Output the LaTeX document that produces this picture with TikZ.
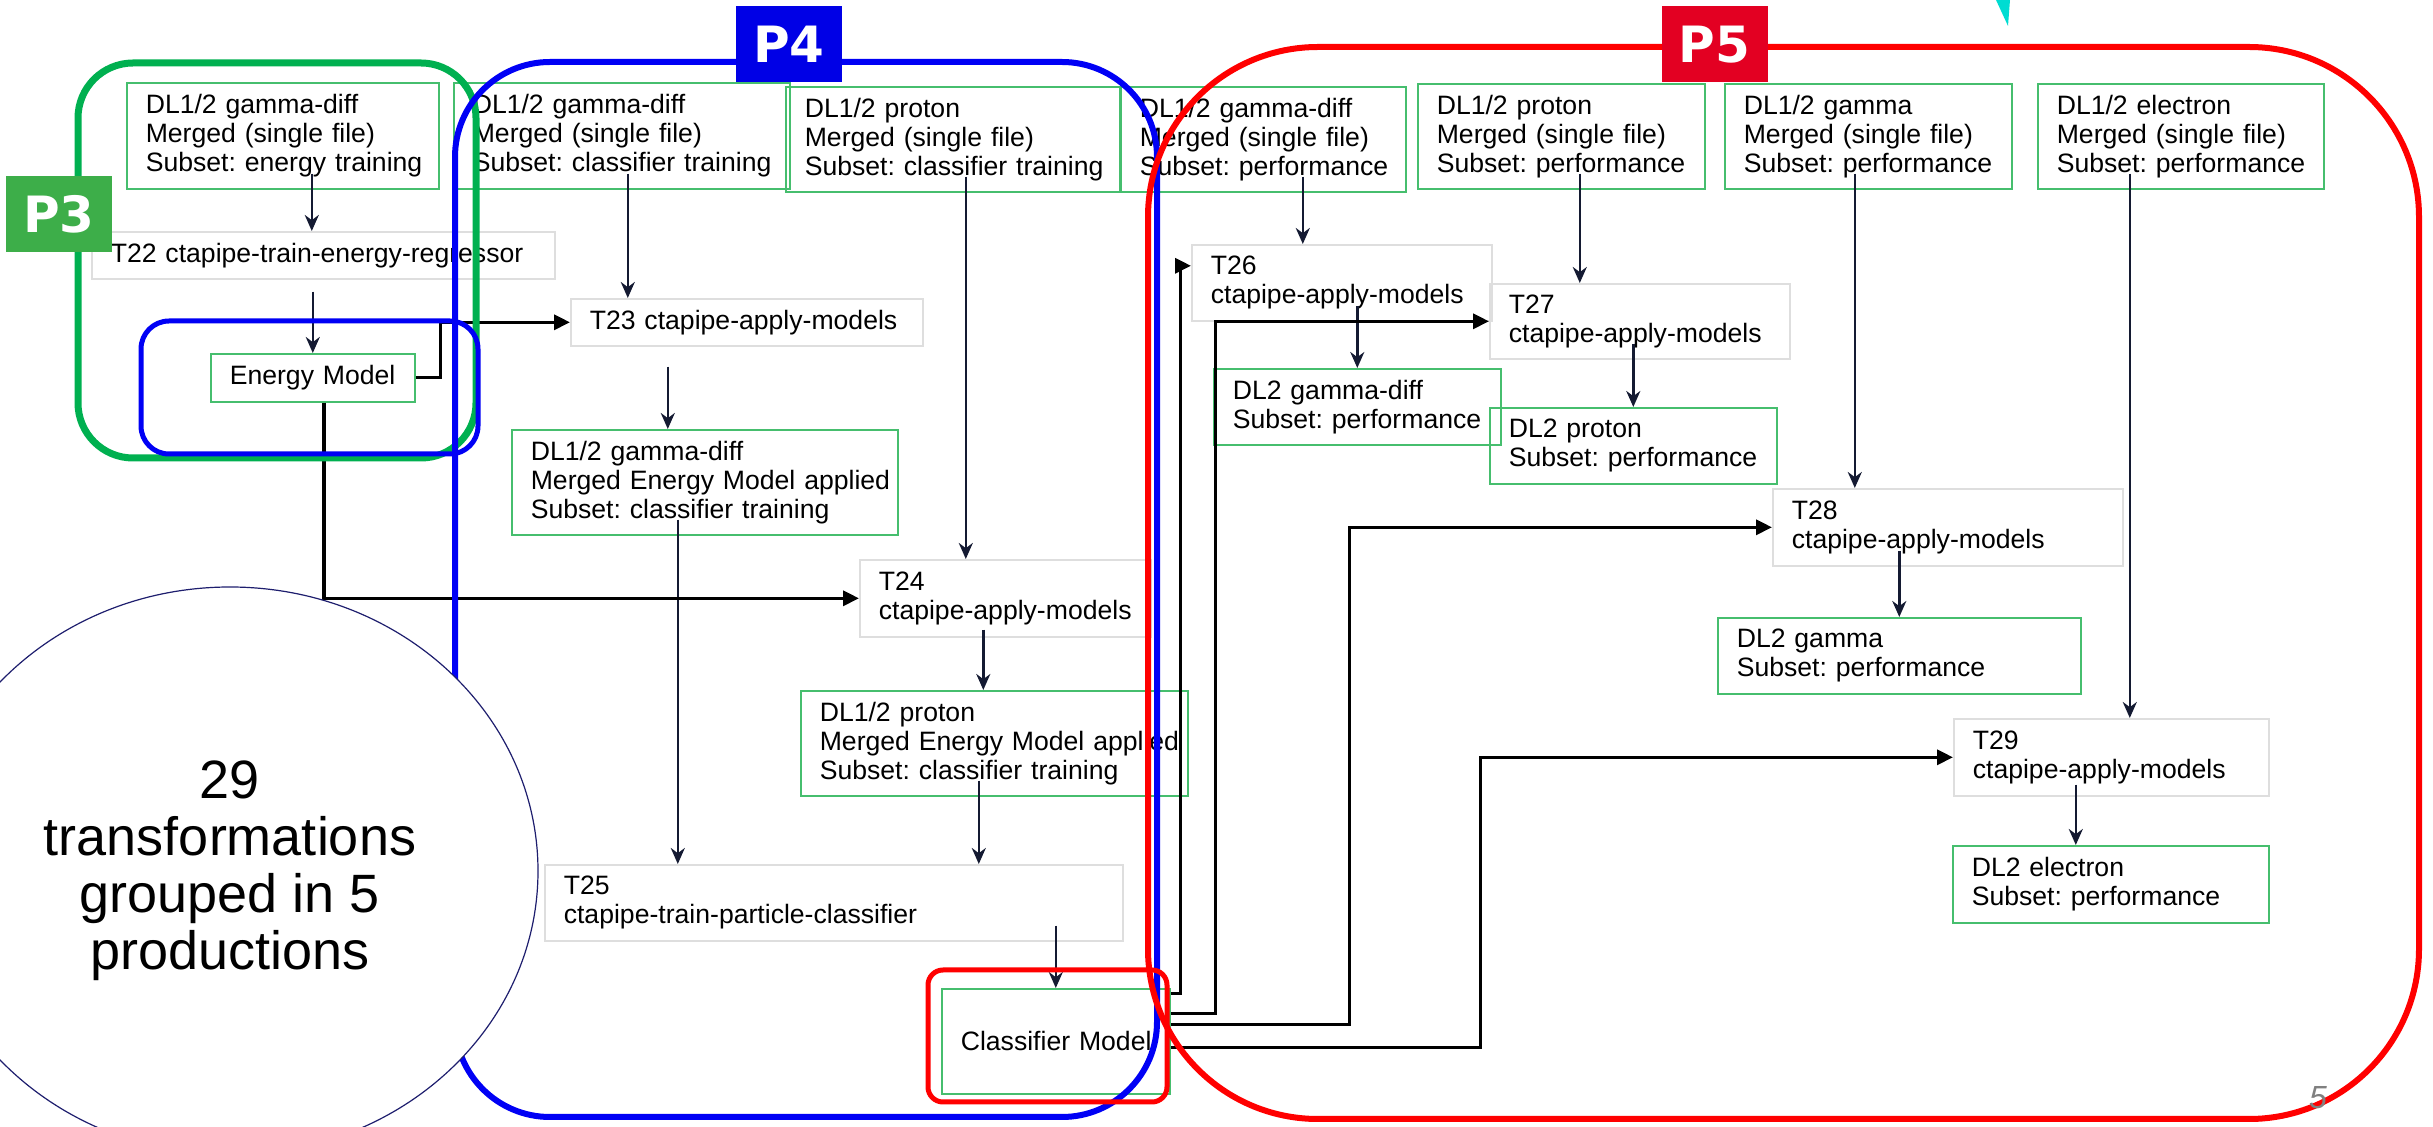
\documentclass[tikz,border=0pt]{standalone}
\usepackage{fontspec}
\setmainfont{Liberation Sans}
\newfontfamily\tagfont{DejaVu Sans}
\usepackage{tikz}
\usetikzlibrary{shapes.geometric, arrows.meta}
\frenchspacing
\definecolor{dsgreen}{RGB}{70,190,110}
\definecolor{taskgray}{RGB}{222,222,222}
\definecolor{arrownavy}{RGB}{20,26,50}
\definecolor{p3green}{RGB}{0,176,80}
\definecolor{p4blue}{RGB}{0,0,245}
\definecolor{p5red}{RGB}{255,0,0}
\definecolor{p3tag}{RGB}{61,174,73}
\definecolor{p4tag}{RGB}{0,0,230}
\definecolor{p5tag}{RGB}{227,0,34}
\definecolor{ringnavy}{RGB}{30,30,110}
\definecolor{tealmark}{RGB}{0,220,210}
\newcommand{\boxfont}{\fontsize{13.3}{14.5}\selectfont}
\tikzset{
    dataset/.style={rectangle, draw=dsgreen, line width=0.8pt, anchor=north west, align=left, inner xsep=9.5pt, inner ysep=1pt, font=\boxfont,
        execute at begin node={\rightskip=-30pt plus 1fil\hyphenpenalty=10000\exhyphenpenalty=10000}},
    task/.style={dataset, draw=taskgray},
    flow/.style={-{Stealth[length=8pt, width=7pt]}, draw=arrownavy, line width=1.3pt, shorten <=-8pt},
    modellink/.style={-{Triangle[length=8pt, width=7.5pt]}, line width=1.7pt},
    prodframe/.style={line width=3pt, rounded corners=#1},
    prodtag/.style={rectangle, fill=#1, text=white, minimum width=53pt, minimum height=38pt, inner sep=0pt, font=\tagfont\bfseries\fontsize{25}{25}\selectfont},
    summary/.style={ellipse, draw=ringnavy, line width=0.6pt, fill=white, minimum width=308pt, minimum height=284pt, inner sep=0pt, align=center, font=\fontsize{27}{28.5}\selectfont}
}

\begin{document}
\begin{tikzpicture}[x=0.5pt, y=-0.5pt]
    \useasboundingbox (0,0) rectangle (2433,1127);
    \clip (0,0) rectangle (2433,1127);

    % P3
    \node[dataset, text width=137pt, minimum height=53pt] (dlEnergy) at (126,82) {DL1/2 gamma-diff\\Merged (single file)\\Subset: energy training};
    \node[task, text width=212.5pt, minimum height=23.5pt] (t22) at (91,231) {T22 ctapipe-train-energy-regressor};
    \node[dataset, text width=83pt, minimum height=24pt] (emodel) at (210,353) {Energy Model};

    % P4
    \node[dataset, text width=149pt, minimum height=53pt] (dlGdClass) at (453,82) {DL1/2 gamma-diff\\Merged (single file)\\Subset: classifier training};
    \node[dataset, text width=148pt, minimum height=52.5pt] (dlPrClass) at (785,86) {DL1/2 proton\\Merged (single file)\\Subset: classifier training};
    \node[task, text width=157pt, minimum height=23.5pt] (t23) at (570,298) {T23 ctapipe-apply-models};
    \node[dataset, text width=174pt, minimum height=52.5pt] (dlGdEM) at (511,429) {DL1/2 gamma-diff\\Merged Energy Model applied\\Subset: classifier training};
    \node[task, text width=126.5pt, minimum height=38.5pt] (t24) at (859,559) {T24\\ctapipe-apply-models};
    \node[dataset, text width=174.5pt, minimum height=52.5pt] (dlPrEM) at (800,690) {DL1/2 proton\\Merged Energy Model applied\\Subset: classifier training};
    \node[task, text width=270pt, minimum height=38pt] (t25) at (544,864) {T25\\ctapipe-train-particle-classifier};
    \node[dataset, text width=95pt, minimum height=52.5pt] (cmodel) at (941,988) {Classifier Model};

    % P5
    \node[dataset, text width=123.5pt, minimum height=52.5pt] (dlGdPerf) at (1120,86) {DL1/2 gamma-diff\\Merged (single file)\\Subset: performance};
    \node[dataset, text width=124.5pt, minimum height=52.5pt] (dlPrPerf) at (1417,83) {DL1/2 proton\\Merged (single file)\\Subset: performance};
    \node[dataset, text width=124.5pt, minimum height=52.5pt] (dlGaPerf) at (1724,83) {DL1/2 gamma\\Merged (single file)\\Subset: performance};
    \node[dataset, text width=124pt, minimum height=52.5pt] (dlElPerf) at (2037,83) {DL1/2 electron\\Merged (single file)\\Subset: performance};
    \node[task, text width=131pt, minimum height=38pt] (t26) at (1191,244) {T26\\ctapipe-apply-models};
    \node[task, text width=131pt, minimum height=37.5pt] (t27) at (1489,283) {T27\\ctapipe-apply-models};
    \node[dataset, text width=124.5pt, minimum height=38pt] (dl2Gd) at (1213,368) {DL2 gamma-diff\\Subset: performance};
    \node[dataset, text width=124.5pt, minimum height=38pt] (dl2Pr) at (1489,407) {DL2 proton\\Subset: performance};
    \node[task, text width=156pt, minimum height=38.5pt] (t28) at (1772,488) {T28\\ctapipe-apply-models};
    \node[dataset, text width=162.5pt, minimum height=38pt] (dl2Ga) at (1717,617) {DL2 gamma\\Subset: performance};
    \node[task, text width=138.5pt, minimum height=38.5pt] (t29) at (1953,718) {T29\\ctapipe-apply-models};
    \node[dataset, text width=139pt, minimum height=38.5pt] (dl2El) at (1952,845) {DL2 electron\\Subset: performance};

    \draw[flow] ([xshift=14.5pt]dlEnergy.south) -- ([xshift=14.5pt]dlEnergy.south |- t22.north);
    \draw[flow, shorten <=6pt] (emodel.north |- t22.south) -- (emodel.north);
    \draw[flow] ([xshift=3pt]dlGdClass.south) -- ([xshift=3pt]dlGdClass.south |- t23.north);
    \draw[flow, shorten <=10pt] ([xshift=-18.5pt]dlGdEM.north |- t23.south) -- ([xshift=-18.5pt]dlGdEM.north);
    \draw[flow] ([xshift=6.5pt]dlPrClass.south) -- ([xshift=6.5pt]dlPrClass.south |- t24.north);
    \draw[flow, shorten <=-4pt] ([xshift=-5.5pt]dlPrEM.north |- t24.south) -- ([xshift=-5.5pt]dlPrEM.north);
    \draw[flow] ([xshift=-13.5pt]dlGdEM.south) -- ([xshift=-13.5pt]dlGdEM.south |- t25.north);
    \draw[flow] ([xshift=-7.75pt]dlPrEM.south) -- ([xshift=-7.75pt]dlPrEM.south |- t25.north);
    \draw[flow] (cmodel.north |- t25.south) -- (cmodel.north);
    \draw[flow] ([xshift=19.75pt]dlGdPerf.south) -- ([xshift=19.75pt]dlGdPerf.south |- t26.north);
    \draw[flow] ([xshift=9.25pt]dlPrPerf.south) -- ([xshift=9.25pt]dlPrPerf.south |- t27.north);
    \draw[flow] (dl2Gd.north |- t26.south) -- (dl2Gd.north);
    \draw[flow] (dl2Pr.north |- t27.south) -- (dl2Pr.north);
    \draw[flow] ([xshift=-6.75pt]dlGaPerf.south) -- ([xshift=-6.75pt]dlGaPerf.south |- t28.north);
    \draw[flow] (dl2Ga.north |- t28.south) -- (dl2Ga.north);
    \draw[flow] ([xshift=-25.5pt]dlElPerf.south) -- ([xshift=-25.5pt]dlElPerf.south |- t29.north);
    \draw[flow, shorten <=-6pt] ([xshift=-17.5pt]dl2El.north |- t29.south) -- ([xshift=-17.5pt]dl2El.north);

    \draw[modellink] (emodel.east) -- ++(25,0) |- (t23.west);
    \draw[modellink] ([xshift=5.5pt]emodel.south) |- (t24.west);
    \draw[modellink] ([yshift=23.75pt]cmodel.east) -- ++(10,0) |- ([yshift=8.5pt]t26.west);
    \draw[modellink] ([yshift=13.75pt]cmodel.east) -- ++(45,0) |- (t27.west);
    \draw[modellink] ([yshift=8.25pt]cmodel.east) -- ++(179,0) |- (t28.west);
    \draw[modellink] ([yshift=-3.25pt]cmodel.east) -- ++(310,0) |- (t29.west);

    \draw[prodframe=27.5pt, draw=p3green, line width=3.5pt] (78,63) rectangle (476,458);
    \draw[prodframe=14pt, draw=p4blue, line width=2.5pt] (141,321) rectangle (478,454);
    \draw[prodframe=47.5pt, draw=p4blue] (455,62) rectangle (1157,1117);
    \draw[prodframe=85pt, draw=p5red] (1148,47) rectangle (2419,1119);
    \draw[prodframe=7.5pt, draw=p5red, line width=2.5pt] (928,970) rectangle (1167,1102);

    \node[summary] (summary) at (230,871) {29\\transformations\\grouped in 5\\productions};

    \node[prodtag=p3tag] (tagP3) at (59,214) {P3};
    \node[prodtag=p4tag] (tagP4) at (789,44.5) {P4};
    \node[prodtag=p5tag] (tagP5) at (1714.5,44.5) {P5};

    \node[text=gray, font=\fontsize{16}{16}\selectfont\itshape] (pagenum) at (2318,1098) {5};
    \fill[tealmark] (1996,0) -- (2010,0) -- (2008,26) -- cycle;
\end{tikzpicture}
\end{document}
